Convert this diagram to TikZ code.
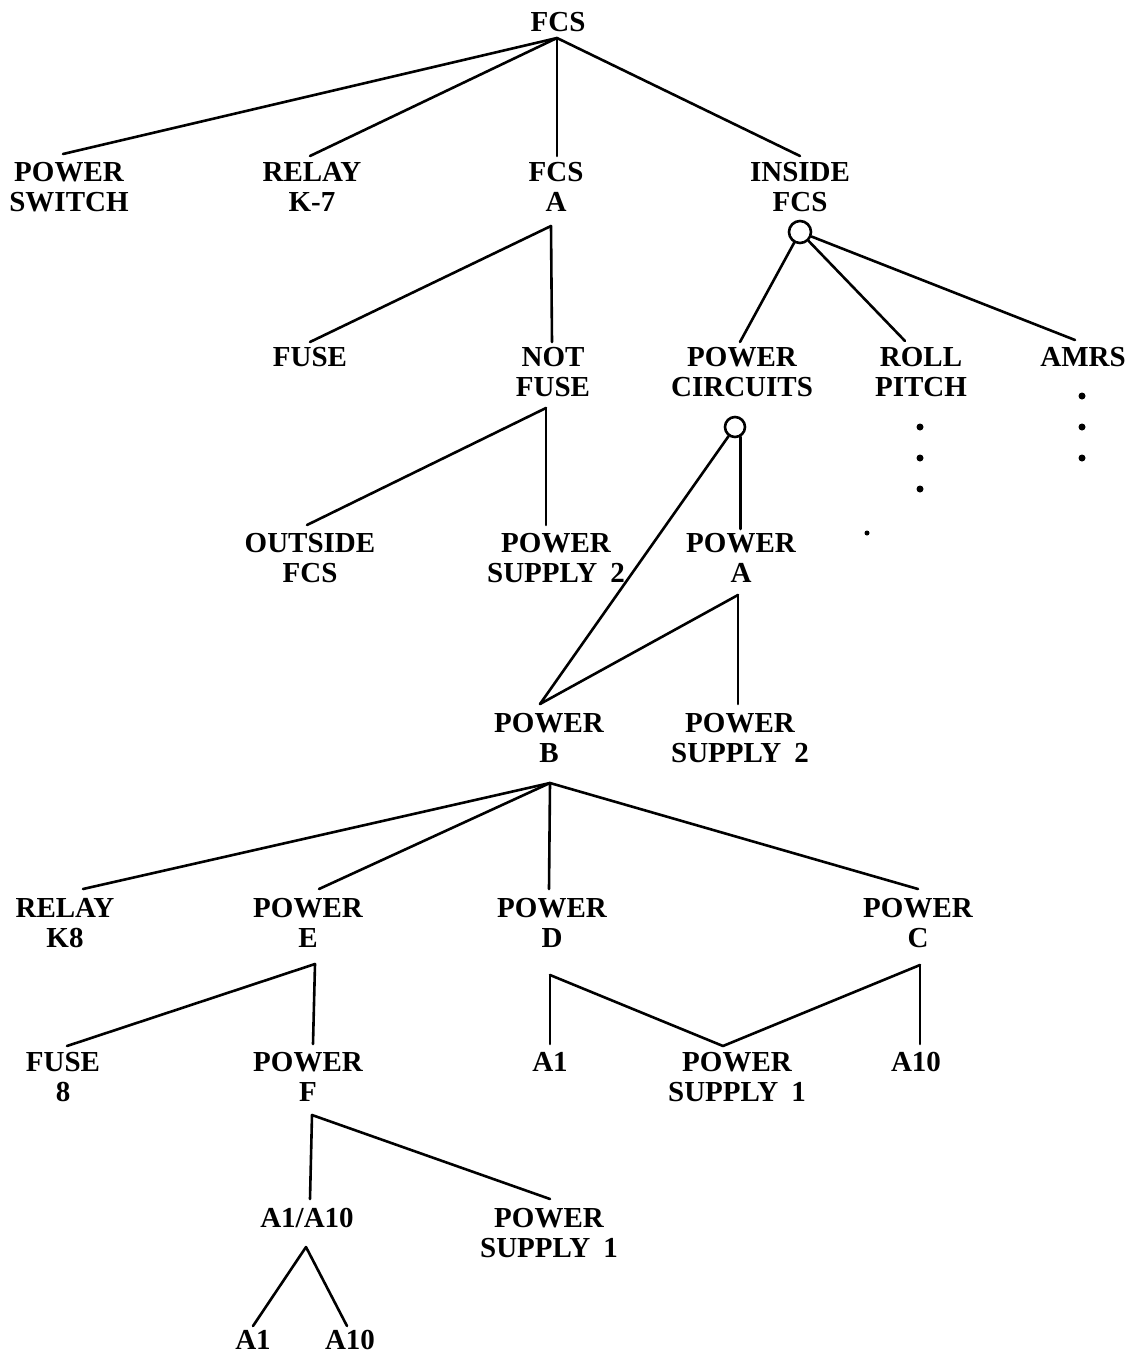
\documentclass[tikz,border=0pt]{standalone}
\usepackage{fontspec}
\setmainfont{Liberation Serif}
\begin{document}
\begin{tikzpicture}[x=1pt,y=-1pt,
  lbl/.style={anchor=north, inner sep=0pt, align=center,
              font=\fontsize{29}{30}\selectfont\bfseries},
  edge/.style={line width=2.6pt, line cap=round, line join=round},
  hub/.style={circle, draw, line width=2.6pt, minimum size=22pt, inner sep=0pt},
  dot/.style={circle, fill, inner sep=0pt, minimum size=7pt}]
\useasboundingbox[fill=white] (0,0) rectangle (1134,1358);

% ---- labels ----
\node[lbl] (fcs)     at (558,12)   {FCS};
\node[lbl] (psw)     at (69,162)   {POWER\\SWITCH};
\node[lbl] (k7)      at (312,162)  {RELAY\\K-7};
\node[lbl] (fcsa)    at (556,162)  {FCS\\A};
\node[lbl] (infcs)   at (800,162)  {INSIDE\\FCS};
\node[hub] (infcsor) at (800,232)  {};
\node[lbl] (fuse)    at (310,347)  {FUSE};
\node[lbl] (notfuse) at (553,347)  {NOT\\FUSE};
\node[lbl] (pcirc)   at (742,347)  {POWER\\CIRCUITS};
\node[hub, minimum size=20pt] (pcircor) at (735,427) {};
\node[lbl] (roll)    at (921,347)  {ROLL\\PITCH};
\node[lbl] (amrs)    at (1083,347) {AMRS};
\node[lbl] (outfcs)  at (310,533)  {OUTSIDE\\FCS};
\node[lbl] (ps2a)    at (556,533)  {POWER\\SUPPLY\hspace{0.45em}2};
\node[lbl] (pwa)     at (741,533)  {POWER\\A};
\node[lbl] (pwb)     at (549,713)  {POWER\\B};
\node[lbl] (ps2b)    at (740,713)  {POWER\\SUPPLY\hspace{0.45em}2};
\node[lbl] (k8)      at (65,898)   {RELAY\\K8};
\node[lbl] (pwe)     at (308,898)  {POWER\\E};
\node[lbl] (pwd)     at (552,898)  {POWER\\D};
\node[lbl] (pwc)     at (918,898)  {POWER\\C};
\node[lbl] (fuse8)   at (63,1052)  {FUSE\\8};
\node[lbl] (pwf)     at (308,1052) {POWER\\F};
\node[lbl] (a1a)     at (550,1052) {A1};
\node[lbl] (ps1a)    at (737,1052) {POWER\\SUPPLY\hspace{0.45em}1};
\node[lbl] (a10a)    at (916,1052) {A10};
\node[lbl] (a1a10)   at (307,1208) {A1/A10};
\node[lbl] (ps1b)    at (549,1208) {POWER\\SUPPLY\hspace{0.45em}1};
\node[lbl] (a1b)     at (253,1330) {A1};
\node[lbl] (a10b)    at (350,1330) {A10};

% ---- continuation dots ----
\node[dot] (rd1) at (920,427) {};
\node[dot] (rd2) at (920,458) {};
\node[dot] (rd3) at (920,489) {};
\node[dot] (ad1) at (1082,396) {};
\node[dot] (ad2) at (1082,427) {};
\node[dot] (ad3) at (1082,458) {};
\node[dot, minimum size=5pt] (sd) at (867,533) {};

% ---- branch points below parents ----
\coordinate (fcs-j)     at (557,38);
\coordinate (fcsa-j)    at (551,226);
\coordinate (notfuse-j) at (546,408);
\coordinate (pwa-j)     at (738,595);
\coordinate (pwb-j)     at (550,783);
\coordinate (pwe-j)     at (315,964);
\coordinate (pwd-j)     at (550,975);
\coordinate (pwc-j)     at (920,965);
\coordinate (pwf-j)     at (312,1115);
\coordinate (a1a10-j)   at (306,1247);
\coordinate (pwa-top)   at ([yshift=4pt]pwa.north);

% ---- connectors ----
\draw[edge] (fcs-j) -- ([xshift=-6pt,yshift=8pt]psw.north);
\draw[edge] (fcs-j) -- ([xshift=-2pt,yshift=6pt]k7.north);
\draw[edge] (fcs-j) -- ([xshift=1pt,yshift=6pt]fcsa.north);
\draw[edge] (fcs-j) -- ([yshift=6pt]infcs.north);

\draw[edge] (fcsa-j) -- ([yshift=5pt]fuse.north);
\draw[edge] (fcsa-j) -- ([xshift=-1pt,yshift=5pt]notfuse.north);

\draw[edge] (infcsor) -- ([xshift=-2pt,yshift=5pt]pcirc.north);
\draw[edge] (infcsor) -- ([xshift=-16pt,yshift=6pt]roll.north);
\draw[edge] (infcsor) -- ([xshift=-8pt,yshift=7pt]amrs.north);

\draw[edge] (notfuse-j) -- ([xshift=-3pt,yshift=8pt]outfcs.north);
\draw[edge] (notfuse-j) -- ([xshift=-10pt,yshift=8pt]ps2a.north);

\draw[edge] (pcircor) -- ([xshift=-9pt,yshift=9pt]pwb.north);
\draw[edge] (pcircor.-60) -- (pcircor.-60 |- pwa-top);

\draw[edge] (pwa-j) -- ([xshift=-9pt,yshift=9pt]pwb.north);
\draw[edge] (pwa-j) -- ([xshift=-2pt,yshift=9pt]ps2b.north);

\draw[edge] (pwb-j) -- ([xshift=18pt,yshift=9pt]k8.north);
\draw[edge] (pwb-j) -- ([xshift=11pt,yshift=9pt]pwe.north);
\draw[edge] (pwb-j) -- ([xshift=-3pt,yshift=9pt]pwd.north);
\draw[edge] (pwb-j) -- ([yshift=9pt]pwc.north);

\draw[edge] (pwe-j) -- ([xshift=4pt,yshift=6pt]fuse8.north);
\draw[edge] (pwe-j) -- ([xshift=5pt,yshift=8pt]pwf.north);

\draw[edge] (pwd-j) -- ([yshift=8pt]a1a.north);
\draw[edge] (pwd-j) -- ([xshift=-14pt,yshift=6pt]ps1a.north);
\draw[edge] (pwc-j) -- ([xshift=-14pt,yshift=6pt]ps1a.north);
\draw[edge] (pwc-j) -- ([xshift=4pt,yshift=8pt]a10a.north);

\draw[edge] (pwf-j) -- ([xshift=3pt,yshift=9pt]a1a10.north);
\draw[edge] (pwf-j) -- ([xshift=1pt,yshift=9pt]ps1b.north);

\draw[edge] (a1a10-j) -- ([yshift=4pt]a1b.north);
\draw[edge] (a1a10-j) -- ([xshift=-3pt,yshift=4pt]a10b.north);
\end{tikzpicture}
\end{document}
